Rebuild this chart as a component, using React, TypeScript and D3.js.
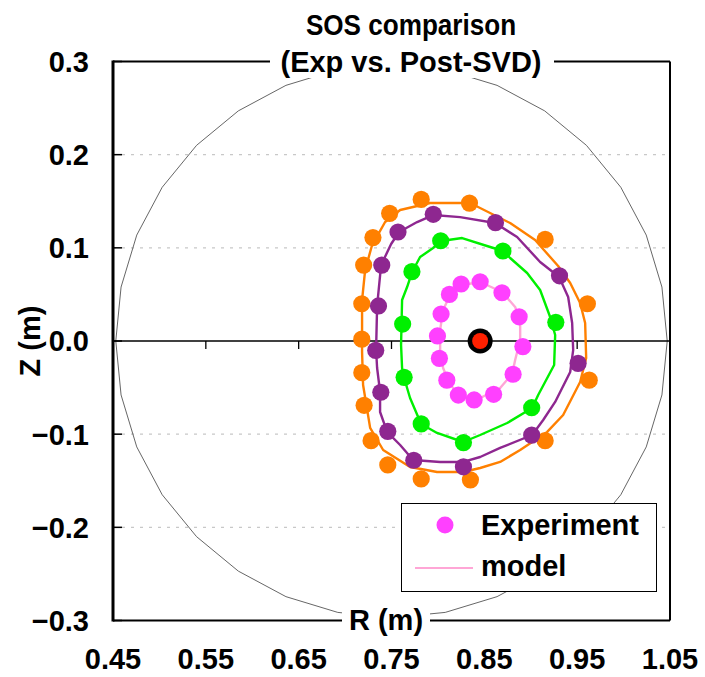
import React from 'react';
import * as d3 from 'd3';

type P = [number, number];

// Experimental points (R, Z) in metres
const expOrange: P[] = [
  [0.782, 0.152], [0.834, 0.148], [0.748, 0.137], [0.730, 0.111], [0.720, 0.0815],
  [0.718, 0.040], [0.718, 0.002], [0.718, -0.034], [0.7205, -0.069], [0.728, -0.107],
  [0.746, -0.133], [0.782, -0.148], [0.835, -0.149], [0.9155, -0.107], [0.963, -0.042],
  [0.961, 0.040], [0.9155, 0.109],
];
const expPurple: P[] = [
  [0.795, 0.136], [0.862, 0.127], [0.757, 0.117], [0.7395, 0.0815], [0.736, 0.0376],
  [0.733, -0.010], [0.7385, -0.055], [0.746, -0.097], [0.774, -0.128], [0.8275, -0.135],
  [0.901, -0.101], [0.951, -0.024], [0.931, 0.070],
];
const expGreen: P[] = [
  [0.803, 0.1076], [0.870, 0.0966], [0.772, 0.0744], [0.762, 0.0182], [0.927, 0.020],
  [0.7636, -0.039], [0.782, -0.089], [0.8275, -0.109], [0.901, -0.0716],
];
const expMagenta: P[] = [
  [0.8455, 0.0636], [0.825, 0.0612], [0.8124, 0.050], [0.869, 0.0518], [0.8034, 0.029],
  [0.8875, 0.026], [0.7995, 0.0054], [0.8915, -0.006], [0.8016, -0.0186], [0.8096, -0.042],
  [0.822, -0.058], [0.839, -0.0633], [0.860, -0.0572], [0.881, -0.0357],
];

// Model contours (R, Z)
const modelOrange: P[] = [
  [0.7183, -0.0118], [0.7183, 0.044], [0.7216, 0.0762], [0.7291, 0.103], [0.7431, 0.1277],
  [0.7593, 0.1406], [0.7916, 0.1481], [0.8347, 0.1481], [0.8778, 0.1266], [0.9047, 0.1084],
  [0.9295, 0.0805], [0.9425, 0.0622], [0.9532, 0.0408], [0.9586, 0.0193], [0.9597, -0.0182],
  [0.9532, -0.044], [0.9349, -0.0794], [0.9177, -0.0976], [0.8886, -0.117], [0.867, -0.1298],
  [0.8455, -0.1363], [0.8272, -0.1406], [0.7991, -0.1406], [0.770, -0.1352], [0.741, -0.117],
  [0.727, -0.0933], [0.7194, -0.0472],
];
const modelPurple: P[] = [
  [0.7334, -0.0097], [0.7345, 0.0376], [0.7388, 0.0815], [0.7496, 0.1041], [0.7582, 0.117],
  [0.7776, 0.1277], [0.7948, 0.1352], [0.8239, 0.133], [0.8616, 0.1266], [0.8853, 0.1116],
  [0.9101, 0.0848], [0.9306, 0.0687], [0.9403, 0.0472], [0.9446, 0.0193], [0.9457, -0.0097],
  [0.9425, -0.0333], [0.9263, -0.0654], [0.9134, -0.0848], [0.9015, -0.1009], [0.867, -0.1148],
  [0.8455, -0.1245], [0.8272, -0.1298], [0.8024, -0.1298], [0.7733, -0.1277], [0.7593, -0.1116],
  [0.7453, -0.0976], [0.7377, -0.0762], [0.7377, -0.0547], [0.7345, -0.029],
];
const modelGreen: P[] = [
  [0.7603, -0.0043], [0.7614, 0.044], [0.7668, 0.0579], [0.7722, 0.074], [0.7808, 0.0901],
  [0.7948, 0.0998], [0.8034, 0.1073], [0.8261, 0.1105], [0.8563, 0.1009], [0.8703, 0.0966],
  [0.8778, 0.0891], [0.8961, 0.073], [0.9101, 0.0547], [0.9209, 0.0258], [0.9263, 0.0064],
  [0.9252, -0.0258], [0.908, -0.0579], [0.9015, -0.0719], [0.8746, -0.088], [0.8455, -0.1009],
  [0.8272, -0.1084], [0.7991, -0.0987], [0.7819, -0.0891], [0.770, -0.0612], [0.7636, -0.0397],
  [0.7614, -0.029],
];
const modelPink: P[] = [
  [0.8455, 0.0633], [0.8692, 0.0526], [0.8832, 0.0365], [0.8886, 0.0204], [0.8886, 0.0011],
  [0.8832, -0.0204], [0.880, -0.0354], [0.867, -0.0504], [0.8455, -0.0612], [0.8261, -0.0601],
  [0.8131, -0.0472], [0.8056, -0.029], [0.8024, -0.0097], [0.8024, 0.0118], [0.8056, 0.0333],
  [0.8131, 0.0494], [0.8261, 0.0601],
];

// Vessel boundary polygon (R, Z)
const vessel: P[] = [
  [1.047, 0], [1.0413, 0.0579], [1.0244, 0.1137], [0.997, 0.165], [0.96, 0.21], [0.915, 0.247],
  [0.8637, 0.2744], [0.8079, 0.2913], [0.75, 0.297], [0.6921, 0.2913], [0.6363, 0.2744],
  [0.585, 0.247], [0.54, 0.21], [0.503, 0.165], [0.4756, 0.1137], [0.4587, 0.0579], [0.453, 0],
  [0.4587, -0.0579], [0.4756, -0.1137], [0.503, -0.165], [0.54, -0.21], [0.585, -0.247],
  [0.6363, -0.2744], [0.6921, -0.2913], [0.75, -0.297], [0.8079, -0.2913], [0.8637, -0.2744],
  [0.915, -0.247], [0.96, -0.21], [0.997, -0.165], [1.0244, -0.1137], [1.0413, -0.0579],
];

const axisCenter: P = [0.8455, 0];

const xTicks = [0.45, 0.55, 0.65, 0.75, 0.85, 0.95, 1.05];
const yTicks = [0.3, 0.2, 0.1, 0, -0.1, -0.2, -0.3];

const titleLines = ['SOS comparison', '(Exp vs. Post-SVD)'];
const legendLabels = ['Experiment', 'model'];

const COL_ORANGE = '#ff8000';
const COL_PURPLE = '#8e2790';
const COL_GREEN = '#00f000';
const COL_MAGENTA = '#ff40ff';
const COL_PINK = '#ffa6d6';
const FONT = "'Liberation Sans', Arial, sans-serif";

export default function App() {
  const W = 705, H = 677;
  const x = d3.scaleLinear().domain([0.45, 1.05]).range([113, 670]);
  const y = d3.scaleLinear().domain([-0.3, 0.3]).range([620.5, 61.5]);
  const closed = d3.line<P>().x(d => x(d[0])).y(d => y(d[1])).curve(d3.curveLinearClosed);
  const fmt = d3.format('.1f');
  const fmtX = d3.format('.2f');

  const models: [P[], string][] = [
    [modelOrange, COL_ORANGE], [modelPurple, COL_PURPLE], [modelGreen, COL_GREEN], [modelPink, COL_PINK],
  ];
  const exps: [P[], string][] = [
    [expOrange, COL_ORANGE], [expPurple, COL_PURPLE], [expGreen, COL_GREEN], [expMagenta, COL_MAGENTA],
  ];

  const x0 = x(0.45), x1 = x(1.05), yTop = y(0.3), yBot = y(-0.3);

  return (
    <svg width={W} height={H} style={{ position: 'absolute', left: 0, top: 0, background: '#fff' }}
      fontFamily={FONT}>
      <rect x={0} y={0} width={W} height={H} fill="#fff" />
      {/* grid */}
      {yTicks.filter(t => t !== 0).map(t => (
        <line key={'g' + t} x1={x0} x2={x1} y1={y(t)} y2={y(t)} stroke="#c8c8c8" strokeWidth={1.2}
          strokeDasharray="3,6" />
      ))}
      {/* vessel */}
      <path d={closed(vessel) || ''} fill="none" stroke="#555" strokeWidth={0.9} />
      {/* frame */}
      <line x1={x0} x2={x1} y1={yTop} y2={yTop} stroke="#000" strokeWidth={2} />
      <line x1={x1} x2={x1} y1={yTop} y2={yBot} stroke="#000" strokeWidth={2} />
      <line x1={x0} x2={x1} y1={yBot} y2={yBot} stroke="#000" strokeWidth={2} />
      <line x1={x0} x2={x0} y1={yTop - 1} y2={yBot + 1} stroke="#000" strokeWidth={3} />
      {/* zero line and ticks */}
      <line x1={x0} x2={x1} y1={y(0)} y2={y(0)} stroke="#000" strokeWidth={1.3} />
      {xTicks.map(t => (
        <line key={'xt' + t} x1={x(t)} x2={x(t)} y1={y(0)} y2={y(0) + 8} stroke="#000" strokeWidth={1.3} />
      ))}
      {yTicks.map(t => (
        <line key={'yt' + t} x1={x0} x2={x0 + 9} y1={y(t)} y2={y(t)} stroke="#000" strokeWidth={1.5} />
      ))}
      {/* models */}
      {models.map(([pts, c], i) => (
        <path key={'m' + i} d={closed(pts) || ''} fill="none" stroke={c} strokeWidth={2.4}
          strokeLinejoin="round" />
      ))}
      {/* experiments */}
      {exps.map(([pts, c], i) => (
        <g key={'e' + i}>
          {pts.map((p, j) => (
            <circle key={j} cx={x(p[0])} cy={y(p[1])} r={8.6} fill={c} />
          ))}
        </g>
      ))}
      {/* magnetic axis */}
      <circle cx={x(axisCenter[0])} cy={y(axisCenter[1])} r={12.5} fill="#000" />
      <circle cx={x(axisCenter[0])} cy={y(axisCenter[1])} r={8} fill="#ff2000" />
      {/* y tick labels */}
      {yTicks.map(t => (
        <text key={'yl' + t} x={89} y={y(t)} dy="0.36em" textAnchor="end" fontSize={29} fontWeight="bold">
          {fmt(t)}
        </text>
      ))}
      {/* x tick labels */}
      {xTicks.map(t => (
        <text key={'xl' + t} x={x(t)} y={669} textAnchor="middle" fontSize={29} fontWeight="bold">
          {fmtX(t)}
        </text>
      ))}
      {/* title */}
      <rect x={270} y={46} width={284} height={32} fill="#fff" />
      <g transform="translate(411,35) scale(0.9,1)">
        <text x={0} y={0} textAnchor="middle" fontSize={29} fontWeight="bold">{titleLines[0]}</text>
      </g>
      <text x={411} y={72} textAnchor="middle" fontSize={29} fontWeight="bold">{titleLines[1]}</text>
      {/* x axis title */}
      <rect x={342} y={604} width={88} height={32} fill="#fff" />
      <text x={386} y={630} textAnchor="middle" fontSize={29} fontWeight="bold">R (m)</text>
      {/* y axis title */}
      <text transform={`translate(40,${y(0)}) rotate(-90)`} textAnchor="middle" fontSize={29} fontWeight="bold">
        Z (m)
      </text>
      {/* legend */}
      <rect x={401.5} y={503.5} width={255} height={88} fill="#fff" stroke="#000" strokeWidth={1} />
      <circle cx={445} cy={525} r={8.5} fill={COL_MAGENTA} />
      <line x1={415} x2={473} y1={568} y2={568} stroke={COL_PINK} strokeWidth={2} />
      <text x={481} y={535} fontSize={29} fontWeight="bold">{legendLabels[0]}</text>
      <text x={481} y={576} fontSize={29} fontWeight="bold">{legendLabels[1]}</text>
    </svg>
  );
}
